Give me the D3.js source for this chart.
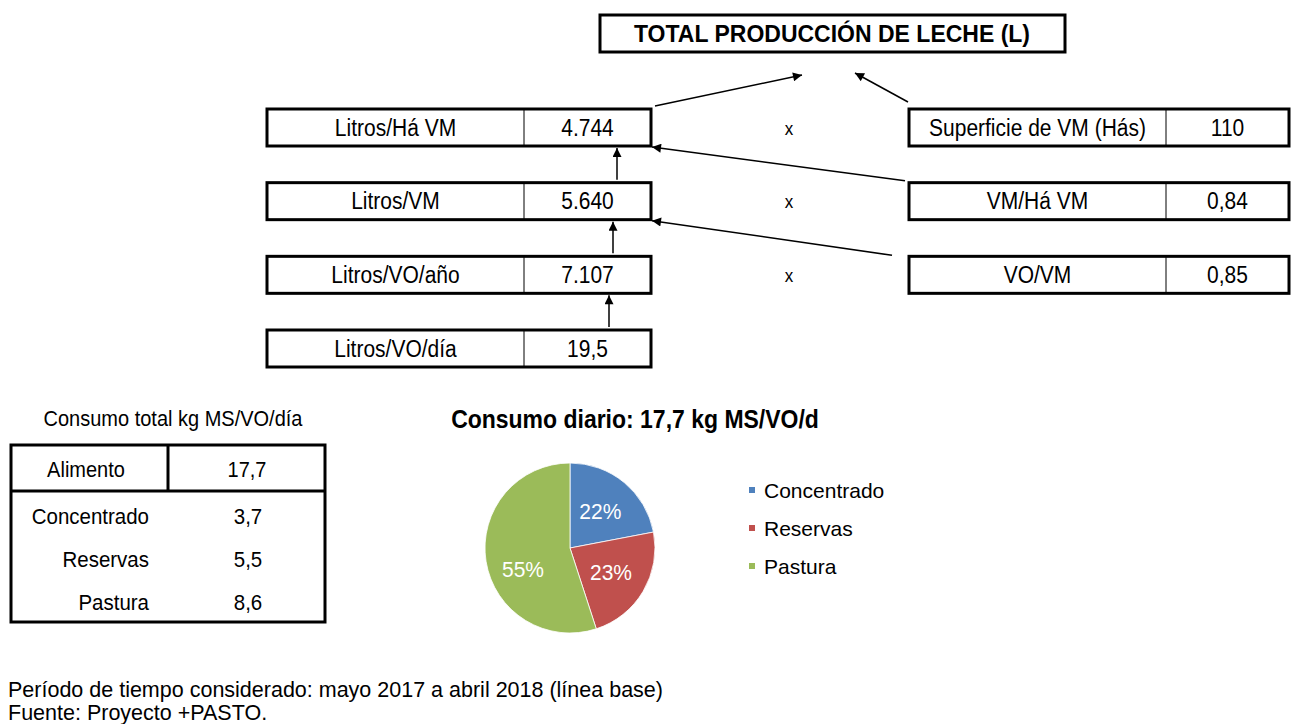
<!DOCTYPE html>
<meta charset="utf-8">
<html>
  <head>
    <title>produccion-leche</title>
    <script src="https://d3js.org/d3.v7.min.js"></script>
    <style>
      body { margin: 0; background: #fff; }
      svg text { font-family: "Liberation Sans", Arial, sans-serif; fill: #000; }
    </style>
  </head>
  <body>
    <div id="chart"></div>
    <script>
        /* data */
        var titleText = "TOTAL PRODUCCIÓN DE LECHE (L)";
        var leftLabels = ["Litros/Há VM", "Litros/VM", "Litros/VO/año", "Litros/VO/día"];
        var leftValues = [4744, 5640, 7107, 19.5];
        var rightLabels = ["Superficie de VM (Hás)", "VM/Há VM", "VO/VM"];
        var rightValues = [110, 0.84, 0.85];
        var tableTitle = "Consumo total kg MS/VO/día";
        var tableHeader = ["Alimento", 17.7];
        var feedLabels = ["Concentrado", "Reservas", "Pastura"];
        var feedKg = [3.7, 5.5, 8.6];
        var pieTitle = "Consumo diario: 17,7 kg MS/VO/d";
        var pieShares = [22, 23, 55];
        var pieColors = ["#4f81bd", "#c0504d", "#9bbb59"];
        var footnotes = ["Período de tiempo considerado: mayo 2017 a abril 2018 (línea base)",
                         "Fuente: Proyecto +PASTO."];

        var W = 1292, H = 724;
        var es = d3.formatLocale({decimal: ",", thousands: ".", grouping: [3], currency: ["", ""]});
        function fmt(v) {
            if (v >= 100) return es.format(",.0f")(v);
            if (v < 1) return es.format(".2f")(v);
            return es.format(".1f")(v);
        }

        var svg = d3.select("#chart").append("svg")
            .attr("width", W).attr("height", H);

        /* text helper: the original glyphs are a bit tall and narrow */
        function txt(g, x, y, size, str, anchor, squeeze, bold) {
            return g.append("text")
                .attr("transform", "translate(" + x + "," + y + ") scale(" + (1 / squeeze) + ",1)")
                .attr("text-anchor", anchor || "start")
                .attr("font-size", size * squeeze)
                .attr("font-weight", bold ? "bold" : null)
                .text(str);
        }

        svg.append("defs").append("marker").attr("id", "head")
            .attr("viewBox", "0 0 10 10").attr("refX", 10).attr("refY", 5)
            .attr("markerWidth", 13).attr("markerHeight", 9)
            .attr("markerUnits", "userSpaceOnUse")
            .attr("orient", "auto")
            .append("path").attr("d", "M0,0L10,5L0,10Z").attr("fill", "#000");

        /* title box */
        svg.append("rect").attr("x", 600).attr("y", 15).attr("width", 465).attr("height", 37)
            .attr("fill", "none").attr("stroke", "#000").attr("stroke-width", 3);
        txt(svg, 832, 42, 23, titleText, "middle", 1.05, true);

        /* row scale for the chain of boxes */
        var rowY = d3.scaleLinear().domain([0, 3]).range([109, 330]);
        var rowH = 37;
        var left = {x0: 267, xd: 524, x1: 651};
        var right = {x0: 909, xd: 1166, x1: 1289};

        function drawBox(g, box, label, value, y) {
            g.append("rect").attr("x", box.x0).attr("y", y).attr("width", box.x1 - box.x0).attr("height", rowH)
                .attr("fill", "none").attr("stroke", "#000").attr("stroke-width", 3);
            g.append("line").attr("x1", box.xd).attr("x2", box.xd).attr("y1", y).attr("y2", y + rowH)
                .attr("stroke", "#000").attr("stroke-width", 1);
            txt(g, (box.x0 + box.xd) / 2, y + rowH / 2 + 8, 21, label, "middle", 1.12);
            txt(g, (box.xd + box.x1) / 2, y + rowH / 2 + 8, 21, fmt(value), "middle", 1.12);
        }

        var boxes = svg.append("g");
        leftLabels.forEach(function(l, i) { drawBox(boxes, left, l, leftValues[i], rowY(i)); });
        rightLabels.forEach(function(l, i) {
            drawBox(boxes, right, l, rightValues[i], rowY(i));
            txt(boxes, 789, rowY(i) + rowH / 2 + 7, 17, "x", "middle", 1.12);
        });

        /* arrows */
        var arrows = [];
        arrows.push([655, 106, 802, 75]);
        arrows.push([908, 102, 855, 73]);
        // right box -> left box above
        arrows.push([905, rowY(1) - 2, 652, rowY(0) + rowH + 1]);
        arrows.push([892, rowY(2) - 1, 652, rowY(1) + rowH + 1]);
        // vertical arrows between left rows
        [617, 613, 609].forEach(function(x, i) {
            arrows.push([x, rowY(i + 1) - 3, x, rowY(i) + rowH + 2]);
        });
        svg.append("g").selectAll("line").data(arrows).enter().append("line")
            .attr("x1", function(d) { return d[0]; }).attr("y1", function(d) { return d[1]; })
            .attr("x2", function(d) { return d[2]; }).attr("y2", function(d) { return d[3]; })
            .attr("stroke", "#000").attr("stroke-width", 1.5)
            .attr("marker-end", "url(#head)");

        /* table of consumption */
        var tbl = svg.append("g");
        txt(tbl, 173, 426, 20, tableTitle, "middle", 1.1);
        var tRow = d3.scaleLinear().domain([0, 2]).range([516, 602]);
        tbl.append("rect").attr("x", 11).attr("y", 445).attr("width", 314).attr("height", 177)
            .attr("fill", "none").attr("stroke", "#000").attr("stroke-width", 3);
        tbl.append("line").attr("x1", 11).attr("x2", 325).attr("y1", 491).attr("y2", 491)
            .attr("stroke", "#000").attr("stroke-width", 3);
        tbl.append("line").attr("x1", 168).attr("x2", 168).attr("y1", 445).attr("y2", 491)
            .attr("stroke", "#000").attr("stroke-width", 3);
        txt(tbl, 86, 477, 20, tableHeader[0], "middle", 1.1);
        txt(tbl, 247, 477, 20, fmt(tableHeader[1]), "middle", 1.1);
        feedLabels.forEach(function(l, i) {
            txt(tbl, 149, tRow(i) + 8, 20.5, l, "end", 1.1);
            txt(tbl, 248, tRow(i) + 8, 20.5, fmt(feedKg[i]), "middle", 1.1);
        });

        /* pie */
        txt(svg, 635, 428, 23, pieTitle, "middle", 1.1, true);
        var r = 85;
        var pie = d3.pie().sort(null).value(function(d) { return d; });
        var arc = d3.arc().innerRadius(0).outerRadius(r);
        var labelArc = d3.arc().innerRadius(r * 0.56).outerRadius(r * 0.56);
        var pg = svg.append("g").attr("transform", "translate(570,548)");
        var slices = pie(pieShares);
        pg.selectAll("path").data(slices).enter().append("path")
            .attr("d", arc)
            .attr("fill", function(d, i) { return pieColors[i]; })
            .attr("stroke", "#fff").attr("stroke-width", 0.8);
        slices.forEach(function(d, i) {
            var c = labelArc.centroid(d);
            if (i == 2) c[1] += 14;
            txt(pg, c[0], c[1] + 8, 21, d.data + "%", "middle", 1.05).style("fill", "#fff");
        });

        /* legend */
        var legY = d3.scaleLinear().domain([0, 2]).range([490, 566]);
        var leg = svg.append("g").selectAll("g").data(feedLabels).enter().append("g")
            .attr("transform", function(d, i) { return "translate(749," + legY(i) + ")"; });
        leg.append("rect").attr("x", 0).attr("y", -3).attr("width", 6).attr("height", 6)
            .attr("fill", function(d, i) { return pieColors[i]; });
        leg.append("text").attr("x", 15).attr("y", 8)
            .attr("font-size", 21).text(function(d) { return d; });

        /* footnotes */
        svg.append("g").selectAll("text").data(footnotes).enter().append("text")
            .attr("x", 8).attr("y", function(d, i) { return 697 + i * 23; })
            .attr("font-size", 21.5).text(function(d) { return d; });
    </script>
  </body>
</html>
